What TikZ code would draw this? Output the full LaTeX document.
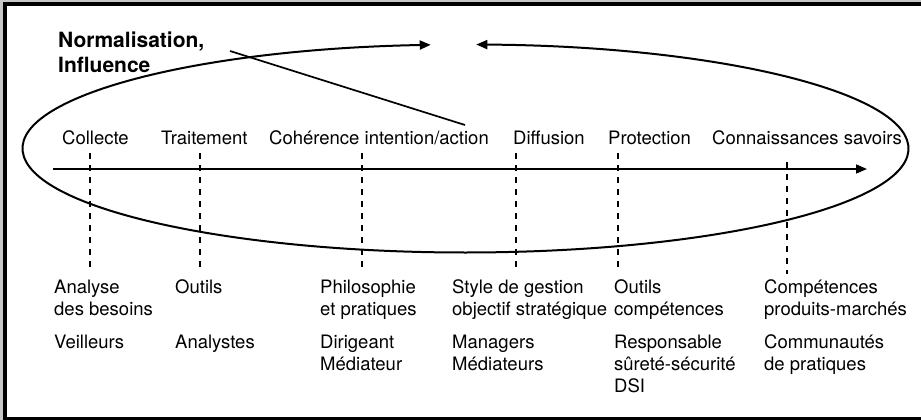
\documentclass[tikz,border=0pt]{standalone}
\usepackage{fontspec}
\setmainfont{TeX Gyre Heros}
\usetikzlibrary{arrows.meta}
\begin{document}
\begin{tikzpicture}[x=1pt,y=-1pt,
  lbl/.style={inner sep=0pt,anchor=base west,font=\fontsize{18.5}{22}\selectfont},
  ttl/.style={inner sep=0pt,anchor=base west,font=\fontsize{21}{25}\selectfont\bfseries},
  tick/.style={line width=1.4pt,dash pattern=on 6pt off 6pt},
  tip/.style={-{Triangle[length=11pt,width=9pt]}}]
\useasboundingbox (0,0) rectangle (921,420);
% frame
\fill[black!22] (0,0) rectangle (921,420);
\fill[black] (3,2) rectangle (930,430);
\fill[white] (7,6) rectangle (930,417);
% title
\node[ttl] (n1) at (58,48) {Normalisation,};
\node[ttl] (n2) at (58,72.7) {Influence};
% top labels
\node[lbl] (t1) at (62,144) {Collecte};
\node[lbl] (t2) at (161,144) {Traitement};
\node[lbl] (t3) at (269,144) {Cohérence intention/action};
\node[lbl] (t4) at (513,144) {Diffusion};
\node[lbl] (t5) at (608,144) {Protection};
\node[lbl] (t6) at (712,144) {Connaissances savoirs};
% axis
\coordinate (a0) at (53,169);
\coordinate (a1) at (867,169);
\draw[line width=1.7pt,tip] (a0) -- (a1);
% ticks
\foreach \i/\x/\ya/\yb in {1/90/153/268, 2/200/153/268, 3/362/153/268, 4/516/153/268, 5/618/153/268, 6/787/162/274}{
  \coordinate (d\i a) at (\x,\ya);
  \coordinate (d\i b) at (\x,\yb);
  \draw[tick] (d\i a) -- (d\i b);
}
% ellipse loop
\coordinate (c) at (465.5,148.5);
\draw[line width=2pt,{Triangle[length=11pt,width=9pt]}-{Triangle[length=11pt,width=9pt]}]
  ([shift={(-94.5:443 and 104)}]c) arc[start angle=-94.5,end angle=-448.6,x radius=443,y radius=104];
% pointer
\coordinate (p0) at (230,51);
\coordinate (p1) at (465,125);
\draw[line width=1.7pt] (p0) -- (p1);
% bottom labels
\node[lbl] (b11) at (54,293) {Analyse};
\node[lbl] (b12) at (54,315) {des besoins};
\node[lbl] (b13) at (54,348) {Veilleurs};
\node[lbl] (b21) at (175,293) {Outils};
\node[lbl] (b23) at (175,348) {Analystes};
\node[lbl] (b31) at (320,293) {Philosophie};
\node[lbl] (b32) at (320,315) {et pratiques};
\node[lbl] (b33) at (320,348) {Dirigeant};
\node[lbl] (b34) at (320,370) {Médiateur};
\node[lbl] (b41) at (452,293) {Style de gestion};
\node[lbl] (b42) at (452,315) {objectif stratégique};
\node[lbl] (b43) at (452,348) {Managers};
\node[lbl] (b44) at (452,370) {Médiateurs};
\node[lbl] (b51) at (614,293) {Outils};
\node[lbl] (b52) at (614,315) {compétences};
\node[lbl] (b53) at (614,348) {Responsable};
\node[lbl] (b54) at (614,370) {sûreté-sécurité};
\node[lbl] (b55) at (614,392) {DSI};
\node[lbl] (b61) at (764,293) {Compétences};
\node[lbl] (b62) at (764,315) {produits-marchés};
\node[lbl] (b63) at (764,348) {Communautés};
\node[lbl] (b64) at (764,370) {de pratiques};
\end{tikzpicture}
\end{document}
